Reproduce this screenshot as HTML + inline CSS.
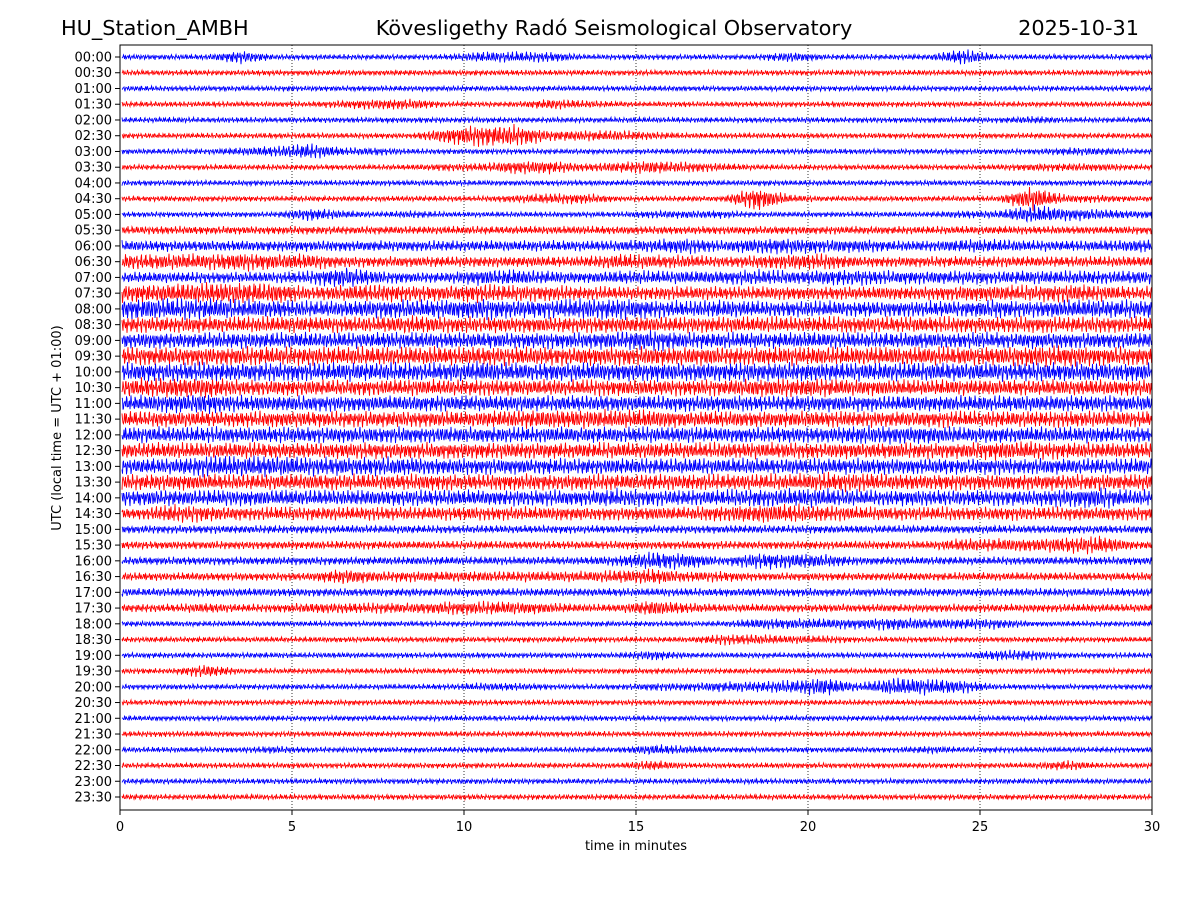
<!DOCTYPE html>
<html><head><meta charset="utf-8"><style>
body{margin:0;background:#fff;}
svg{display:block;font-family:"DejaVu Sans","Liberation Sans",sans-serif;}
</style></head><body>
<svg id="chart" width="1200" height="900" viewBox="0 0 1200 900" xmlns="http://www.w3.org/2000/svg">
<rect width="1200" height="900" fill="#fff"/>
<text x="61" y="35" font-size="20.8">HU_Station_AMBH</text>
<text x="614" y="35" font-size="20.8" text-anchor="middle">Kövesligethy Radó Seismological Observatory</text>
<text x="1139" y="35" font-size="20.8" text-anchor="end">2025-10-31</text>
<g id="grid"></g>
<g id="traces"></g>
<rect x="120" y="45" width="1032" height="765" fill="none" stroke="#000" stroke-width="1"/>
<g id="axes"></g>
<text x="636" y="850" font-size="13" text-anchor="middle">time in minutes</text>
<text transform="translate(61,428) rotate(-90)" font-size="13" text-anchor="middle">UTC (local time = UTC + 01:00)</text>
</svg>
<script>
const rowLabels = ["00:00","00:30","01:00","01:30","02:00","02:30","03:00","03:30","04:00","04:30","05:00","05:30","06:00","06:30","07:00","07:30","08:00","08:30","09:00","09:30","10:00","10:30","11:00","11:30","12:00","12:30","13:00","13:30","14:00","14:30","15:00","15:30","16:00","16:30","17:00","17:30","18:00","18:30","19:00","19:30","20:00","20:30","21:00","21:30","22:00","22:30","23:00","23:30"];
const xTicks = [0,5,10,15,20,25,30];
// per-minute amplitude envelope of each trace (0-9)
const envelopes = [
"222522222244422222242222622222","222222222222222222222222222222","222222222222222222222222222222","222222344222432222222222222222",
"222222222222222222222222223222","222222222688444322222222222222","222346332222222222222222222332","222222222335534543222222223332",
"222222222222222222222222222222","222222222223442222932222229332","222225323222222333222222337543","333333333333333333333333333333",
"444444444444444564665544554445","666766444444446554566444444444","444445854466545555656655555555","778885676676655555555555666765",
"888776677787788767666666676777","666666667666666666666666666666","666666666666667866666666666666","777777777777777777777777778877",
"777777777787777777777777777777","788666666666666666777666666666","678666666666666666666666666666","666666666667777766666666666666",
"666666666666666666666777666666","666666666666666666666666677666","668887777666666666666666666666","666666666666666666667766666666",
"666666666666667666777666666786","476555555555555556776555555555","333333333333333333333333333333","333333333333333333333333555673",
"333333333333334763665333333333","333333644444445644333333333333","333333333333333333333333333333","334334444555433643333333333333",
"222222222222222222444454442222","222222222222222224433222222222","222222222222222422222222244222","225222222222222222222222222222",
"222222222233222334457376522222","222222222222222222222222222222","222222222222222222222222222222","222222222222222222222222222222",
"222232222222222432222223222222","222222222222222422222222222422","222222222222222222222222222222","222222222222222222222222222222"];
const colors = ["#0000ff","#ff0000"];

const NS="http://www.w3.org/2000/svg";
const X0=120,X1=1152,Y0=57,DY=(797-57)/47;
const xs=m=>X0+(X1-X0)*m/30;
const ys=i=>Y0+DY*i;
const grid=document.getElementById('grid'),tr=document.getElementById('traces'),ax=document.getElementById('axes');
function mk(tag,attrs,parent){const e=document.createElementNS(NS,tag);for(const k in attrs)e.setAttribute(k,attrs[k]);parent.appendChild(e);return e;}
xTicks.forEach(t=>{
  if(t>0&&t<30){const l=mk('line',{x1:xs(t),x2:xs(t),y1:45,y2:810,stroke:'#000','stroke-width':0.8,'stroke-dasharray':'1,2'},grid);
  
  }
  const tk=mk('line',{x1:xs(t),x2:xs(t),y1:810,y2:815,stroke:'#000'},ax);
  
  
  const tx=mk('text',{x:xs(t),y:831,'font-size':13,'text-anchor':'middle'},ax);tx.textContent=t;
  
  
});
rowLabels.forEach((lab,i)=>{
  const y=ys(i);
  const tk=mk('line',{x1:115,x2:120,y1:y,y2:y,stroke:'#000'},ax);
  
  
  const tx=mk('text',{x:112,y:y+4.5,'font-size':13,'text-anchor':'end'},ax);tx.textContent=lab;
  
  
  const env=envelopes[i];
  let d='';
  for(let px=2;px<=X1-X0;px+=0.5){
    const m=px/(X1-X0)*30-0.5;
    const k=Math.max(0,Math.min(29,Math.floor(m))),f=Math.max(0,Math.min(1,m-k));
    const a=((+env[k])*(1-f)+(+env[Math.min(29,k+1)])*f)*1.35;
    const ph=px*2.9+1.7*Math.sin(px*0.173+i)+0.9*Math.sin(px*0.061+i*1.9);
    const s=0.55*Math.sin(ph)+0.3*Math.sin(px*4.37+i*2.3+Math.sin(px*0.11))+0.25*Math.sin(px*1.31+i*0.7);
    d+=(d?'L':'M')+(X0+px).toFixed(1)+' '+(y+a*s).toFixed(1);
  }
  const p=mk('path',{d:d,fill:'none',stroke:colors[i%2],'stroke-width':0.9},tr);
  
  
});
</script>
</body></html>
